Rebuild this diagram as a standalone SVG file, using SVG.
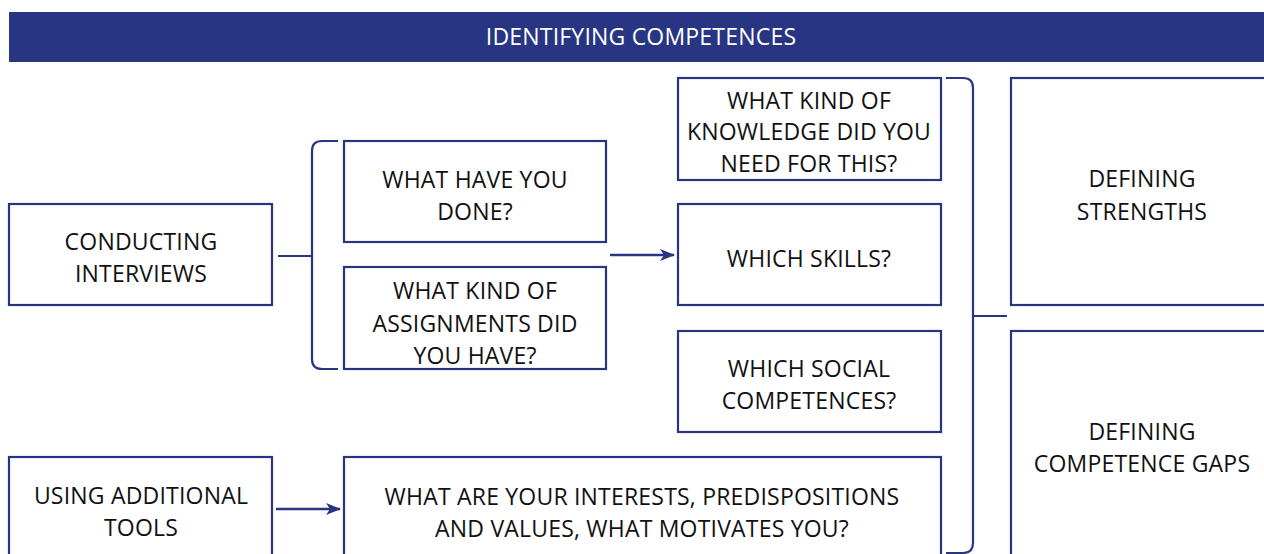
<svg xmlns="http://www.w3.org/2000/svg" width="1264" height="554" viewBox="0 0 1264 554">
  <defs>
    <style>
      .box { fill: #ffffff; stroke: #283583; stroke-width: 2.2; }
      .wire { fill: none; stroke: #283583; stroke-width: 2.2; }
      .arr { fill: none; stroke: #283583; stroke-width: 2.6; }
      .lbl { font-family: "Open Sans", "Liberation Sans", sans-serif; font-size: 23px; letter-spacing: 0.2px; fill: #111111; text-anchor: middle; }
      .head { font-family: "Open Sans", "Liberation Sans", sans-serif; font-size: 23px; letter-spacing: 0.2px; fill: #ffffff; text-anchor: middle; }
    </style>
    <marker id="arrow" markerWidth="15" markerHeight="12" refX="14" refY="6" orient="auto" markerUnits="userSpaceOnUse">
      <path d="M0,0 L15,6 L0,12 L4,6 Z" fill="#283583"/>
    </marker>
  </defs>
  <rect width="1264" height="554" fill="#ffffff"/>

  <g id="header">
    <rect x="9" y="12" width="1255" height="50" fill="#283583"/>
    <text class="head" x="641" y="45">IDENTIFYING COMPETENCES</text>
  </g>

  <g id="conducting-interviews">
    <rect class="box" x="9" y="204" width="263" height="101"/>
    <text class="lbl" x="141" y="250">CONDUCTING</text>
    <text class="lbl" x="141" y="282">INTERVIEWS</text>
  </g>

  <g id="what-have-you-done">
    <rect class="box" x="344" y="141" width="262" height="101"/>
    <text class="lbl" x="475" y="188">WHAT HAVE YOU</text>
    <text class="lbl" x="475" y="220">DONE?</text>
  </g>

  <g id="assignments">
    <rect class="box" x="344" y="267" width="262" height="102"/>
    <text class="lbl" x="475" y="299">WHAT KIND OF</text>
    <text class="lbl" x="475" y="332">ASSIGNMENTS DID</text>
    <text class="lbl" x="475" y="364">YOU HAVE?</text>
  </g>

  <g id="knowledge">
    <rect class="box" x="678" y="78" width="263" height="102"/>
    <text class="lbl" x="809" y="109">WHAT KIND OF</text>
    <text class="lbl" x="809" y="140">KNOWLEDGE DID YOU</text>
    <text class="lbl" x="809" y="172">NEED FOR THIS?</text>
  </g>

  <g id="skills">
    <rect class="box" x="678" y="204" width="263" height="101"/>
    <text class="lbl" x="809" y="267">WHICH SKILLS?</text>
  </g>

  <g id="social-competences">
    <rect class="box" x="678" y="331" width="263" height="101"/>
    <text class="lbl" x="809" y="377">WHICH SOCIAL</text>
    <text class="lbl" x="809" y="409">COMPETENCES?</text>
  </g>

  <g id="additional-tools">
    <rect class="box" x="9" y="457" width="263" height="110"/>
    <text class="lbl" x="141" y="504">USING ADDITIONAL</text>
    <text class="lbl" x="141" y="536">TOOLS</text>
  </g>

  <g id="interests">
    <rect class="box" x="344" y="457" width="597" height="110"/>
    <text class="lbl" x="642" y="505">WHAT ARE YOUR INTERESTS, PREDISPOSITIONS</text>
    <text class="lbl" x="642" y="537">AND VALUES, WHAT MOTIVATES YOU?</text>
  </g>

  <g id="defining-strengths">
    <rect class="box" x="1011" y="78" width="270" height="227"/>
    <text class="lbl" x="1142" y="187">DEFINING</text>
    <text class="lbl" x="1142" y="220">STRENGTHS</text>
  </g>

  <g id="defining-gaps">
    <rect class="box" x="1011" y="331" width="270" height="240"/>
    <text class="lbl" x="1142" y="440">DEFINING</text>
    <text class="lbl" x="1142" y="472">COMPETENCE GAPS</text>
  </g>

  <g id="connectors">
    <!-- interview stub and left bracket -->
    <path class="wire" d="M278,256 H312"/>
    <path class="wire" d="M338,141 H322 Q312,141 312,151 V359 Q312,369 322,369 H338"/>
    <!-- questions to skills -->
    <path class="arr" d="M610,255 H674" marker-end="url(#arrow)"/>
    <!-- tools to interests -->
    <path class="arr" d="M276,509 H340" marker-end="url(#arrow)"/>
    <!-- right bracket and tap to outcomes -->
    <path class="wire" d="M946,78 H963 Q973,78 973,88 V543 Q973,553 963,553 H946"/>
    <path class="wire" d="M973,316 H1007"/>
  </g>
</svg>
